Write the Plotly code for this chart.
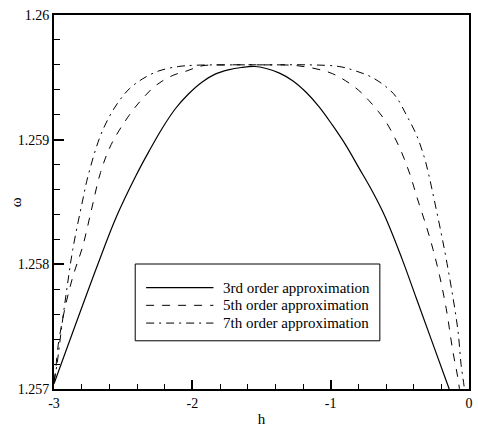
import plotly.graph_objects as go

# ---- data ----
series_names = ["3rd order approximation", "5th order approximation", "7th order approximation"]

h3 = [-3.0, -2.685, -2.549, -2.4079, -2.3127, -2.2174, -2.1215, -2.0263, -1.931, -1.8351,
      -1.7399, -1.6447, -1.5487, -1.4657, -1.3697, -1.2745, -1.1793, -1.0833, -0.9881,
      -0.8929, -0.7969, -0.7017, -0.6065, -0.4869, -0.3795, -0.1432, -0.12]
w3 = [1.257042, 1.257995, 1.258382, 1.258711, 1.258908, 1.259092, 1.25925, 1.259368, 1.259461,
      1.259526, 1.25956, 1.259579, 1.259587, 1.259571, 1.259534, 1.259473, 1.259382, 1.259263,
      1.259118, 1.25896, 1.258776, 1.258592, 1.258382, 1.258052, 1.257724, 1.257, 1.25693]

h5 = [-3.0, -2.9893, -2.9692, -2.9212, -2.8618, -2.7924, -2.7301, -2.6635, -2.5869, -2.4559,
      -2.3606, -2.2647, -2.1458, -2.0384, -1.931, -1.7399, -1.5, -1.2387, -1.0117, -0.8929,
      -0.7969, -0.7253, -0.6537, -0.5943, -0.5012, -0.4274, -0.3723, -0.3079, -0.2599,
      -0.2127, -0.1647, -0.1167, -0.0809, -0.0644]
w5 = [1.25706, 1.257142, 1.257355, 1.257647, 1.257908, 1.258145, 1.258434, 1.258737, 1.25896,
      1.259197, 1.259329, 1.259434, 1.259513, 1.259552, 1.259592, 1.2596, 1.2596, 1.259593,
      1.25954, 1.259473, 1.259395, 1.259316, 1.259224, 1.259132, 1.258934, 1.258723, 1.258524,
      1.258303, 1.258119, 1.257908, 1.257645, 1.257302, 1.257092, 1.256961]

h7 = [-3.0, -2.9785, -2.9427, -2.9069, -2.864, -2.7924, -2.7566, -2.6707, -2.5991, -2.5275,
      -2.4559, -2.3606, -2.241, -2.0979, -1.9783, -1.7, -1.4, -1.15, -0.9401, -0.8213,
      -0.7017, -0.5821, -0.5227, -0.4511, -0.3795, -0.3222, -0.2914, -0.2542, -0.2005,
      -0.1647, -0.1146, -0.0788, -0.0573, -0.0358, -0.0286]
w7 = [1.257055, 1.257197, 1.257513, 1.257805, 1.258121, 1.258516, 1.258697, 1.259013, 1.259187,
      1.259313, 1.259408, 1.259487, 1.259552, 1.259587, 1.259597, 1.2596, 1.2596, 1.2596,
      1.259587, 1.259552, 1.2595, 1.259408, 1.259337, 1.259195, 1.259037, 1.258855, 1.258721,
      1.258532, 1.258247, 1.258042, 1.257726, 1.257458, 1.257197, 1.257024, 1.256945]

x_tickvals = [-3, -2, -1, 0]
x_ticktext = ["-3", "-2", "-1", "0"]
y_tickvals = [1.257, 1.258, 1.259, 1.26]
y_ticktext = ["1.257", "1.258", "1.259", "1.26"]

# ---- styles ----
font_family = "Liberation Serif, Times New Roman, serif"
styles = [
    dict(color="black", width=1.2, dash="solid"),
    dict(color="black", width=1, dash="8px,8px"),
    dict(color="black", width=1, dash="8px,5px,2px,5px"),
]

fig = go.Figure()
for xs, ys, name, st in zip([h3, h5, h7], [w3, w5, w7], series_names, styles):
    fig.add_trace(go.Scatter(x=xs, y=ys, mode="lines", name=name,
                             line=dict(shape="spline", smoothing=1.0, **st),
                             showlegend=False, hoverinfo="skip"))

# ---- manual legend (box, sample lines, labels) in paper coords ----
box = dict(x0=0.1957, x1=0.7852, y0=0.1289, y1=0.3342)
row_y = [0.2711, 0.2237, 0.1763]
shapes = [dict(type="rect", xref="paper", yref="paper", line=dict(color="black", width=1),
               fillcolor="white", layer="above", **box)]
annotations = []
for yy, name, st in zip(row_y, series_names, styles):
    shapes.append(dict(type="line", xref="paper", yref="paper", x0=0.222, x1=0.3842,
                       y0=yy, y1=yy, layer="above",
                       line=dict(color="black", width=st["width"], dash=st["dash"])))
    annotations.append(dict(text=name, xref="paper", yref="paper", x=0.4033, y=yy,
                            xanchor="left", yanchor="middle", showarrow=False,
                            font=dict(family=font_family, size=15, color="black")))

# y-axis title as a rotated annotation placed like the reference
annotations.append(dict(text="ω", xref="paper", yref="paper", x=-0.0907, y=0.5,
                        xanchor="center", yanchor="middle", textangle=-90, showarrow=False,
                        font=dict(family=font_family, size=15, color="black")))

axis_common = dict(showgrid=False, zeroline=False, showline=True, linecolor="black",
                   linewidth=2, mirror=True, ticks="inside", tickcolor="black",
                   tickfont=dict(family=font_family, size=14, color="black"))

fig.update_layout(
    width=478, height=430, autosize=False,
    margin=dict(l=54, r=5, t=15, b=35),
    paper_bgcolor="white", plot_bgcolor="white",
    font=dict(family=font_family, size=14, color="black"),
    shapes=shapes, annotations=annotations,
    xaxis=dict(range=[-3, 0], tickmode="array", tickvals=x_tickvals, ticktext=x_ticktext,
               ticklen=9, tickwidth=2,
               minor=dict(dtick=0.2, tick0=0, ticks="inside", ticklen=5, tickwidth=1,
                          tickcolor="black"),
               title=dict(text="h", font=dict(family=font_family, size=15), standoff=4),
               **axis_common),
    yaxis=dict(range=[1.257, 1.26], tickmode="array", tickvals=y_tickvals, ticktext=y_ticktext,
               ticklen=10, tickwidth=2,
               minor=dict(dtick=0.0002, tick0=1.257, ticks="inside", ticklen=6, tickwidth=1,
                          tickcolor="black"),
               **axis_common),
)

fig.write_html("out.html", config={"displayModeBar": False},
               post_script="document.body.style.margin='0px';document.body.style.overflow='hidden';")
